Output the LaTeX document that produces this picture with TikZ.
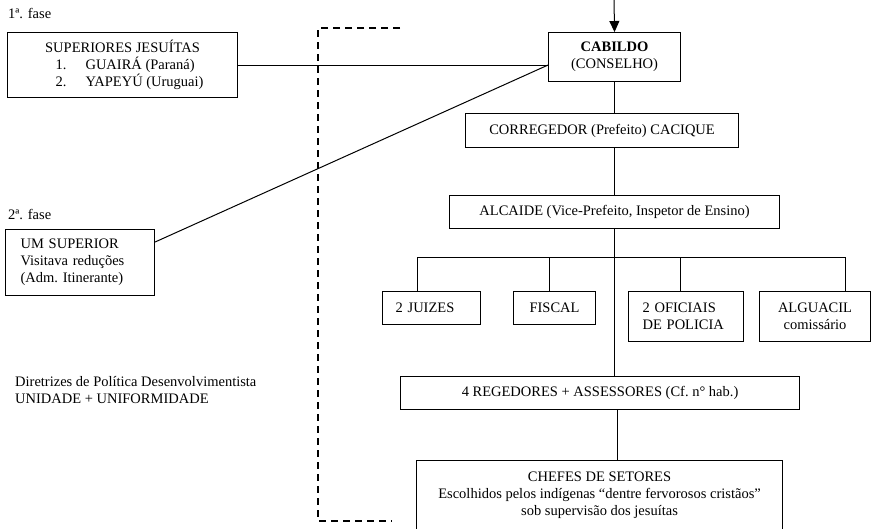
\documentclass[tikz,border=0pt]{standalone}
\usepackage{fontspec}
\setmainfont{Liberation Serif}
\usetikzlibrary{calc,arrows.meta,positioning}

\begin{document}
\begin{tikzpicture}[x=1pt,y=-1pt,
    box/.style={draw, line width=1.1pt, inner sep=0pt, align=center,
                font=\fontsize{14.5}{17}\selectfont},
    txt/.style={inner sep=0pt, align=left, font=\fontsize{14.5}{17}\selectfont},
    link/.style={line width=1pt},
    frame/.style={line width=1.5pt, dash pattern=on 7pt off 5pt}]

  % Page
  \useasboundingbox (0,0) rectangle (872,528);

  % Phase labels
  \node[txt, anchor=west] (fase1) at (8,13) {1ª. fase};
  \node[txt, anchor=west] (fase2) at (8,214) {2ª. fase};

  % Left boxes
  \node[box, anchor=north west, minimum width=230, minimum height=65] (supjes) at (7,32)
    {SUPERIORES JESUÍTAS\\
     \hspace*{16pt}\makebox[30pt][l]{1.}\makebox[120pt][l]{GUAIRÁ (Paraná)}\\
     \hspace*{16pt}\makebox[30pt][l]{2.}\makebox[120pt][l]{YAPEYÚ (Uruguai)}};
  \node[box, anchor=north west, minimum width=149, minimum height=66,
        text width=119, inner xsep=15pt, align=left] (umsup) at (5,229)
    {UM SUPERIOR\\ Visitava reduções\\ (Adm.\ Itinerante)};

  % Guidelines
  \node[txt, anchor=north west] (diretriz) at (15,376)
    {Diretrizes de Política Desenvolvimentista\\ UNIDADE + UNIFORMIDADE};

  % Main chain
  \node[box, anchor=north west, minimum width=132, minimum height=49] (cabildo) at (548,32)
    {\textbf{CABILDO}\\ (CONSELHO)};
  \node[box, anchor=north west, minimum width=273, minimum height=34] (corregedor) at (465,113)
    {CORREGEDOR (Prefeito) CACIQUE};
  \node[box, anchor=north west, minimum width=330, minimum height=33] (alcaide) at (449,195)
    {ALCAIDE (Vice-Prefeito, Inspetor de Ensino)};

  % Officers
  \node[box, anchor=north west, minimum width=98, minimum height=33,
        text width=72, inner xsep=13pt, align=left] (juizes) at (382,291) {2 JUIZES};
  \node[box, anchor=north west, minimum width=82, minimum height=33] (fiscal) at (513,291) {FISCAL};
  \node[box, anchor=north west, minimum width=115, minimum height=50,
        text width=87, inner xsep=14pt, align=left] (oficiais) at (628,291) {2 OFICIAIS\\ DE POLICIA};
  \node[box, anchor=north west, minimum width=111, minimum height=50] (alguacil) at (759,291)
    {ALGUACIL\\ comissário};

  \node[box, anchor=north west, minimum width=399, minimum height=33] (regedores) at (400,376)
    {4 REGEDORES + ASSESSORES (Cf.\ n° hab.)};
  \node[box, anchor=north west, minimum width=366, minimum height=80] (chefes) at (416,460) {};
  \node[txt, align=center, below=12pt of chefes.north] (chefestxt)
    {CHEFES DE SETORES\\ Escolhidos pelos indígenas “dentre fervorosos cristãos”\\ sob supervisão dos jesuítas};

  % Helper points
  \coordinate (top) at (614,0);
  \coordinate (junc) at (supjes.east -| cabildo.west);
  \coordinate (b1) at (417,257);
  \coordinate (b2) at (549,257);
  \coordinate (b3) at (680,257);
  \coordinate (b4) at (845,257);
  \coordinate (rc) at (617,409);

  % Connectors
  \draw[link, -{Triangle[width=10pt,length=11pt]}] (top) -- (cabildo.north);
  \draw[link] (supjes.east) -- (junc);
  \draw[link] (junc) -- ($(umsup.north east)+(0,13)$);
  \draw[link] (cabildo.south) -- (cabildo.south |- corregedor.north);
  \draw[link] (cabildo.south |- corregedor.south) -- (cabildo.south |- alcaide.north);
  \draw[link] (alcaide.south) -- (alcaide.south |- regedores.north);
  \draw[link] (b1) -- (b4);
  \draw[link] (b1) -- (b1 |- juizes.north);
  \draw[link] (b2) -- (b2 |- fiscal.north);
  \draw[link] (b3) -- (b3 |- oficiais.north);
  \draw[link] (b4) -- (b4 |- alguacil.north);
  \draw[link] (rc) -- (rc |- chefes.north);

  % Dashed frame
  \coordinate (dtop) at (400,28);
  \coordinate (dbot) at (392,521);
  \draw[frame] (dtop) -- (318,28) |- (dbot);

\end{tikzpicture}
\end{document}
